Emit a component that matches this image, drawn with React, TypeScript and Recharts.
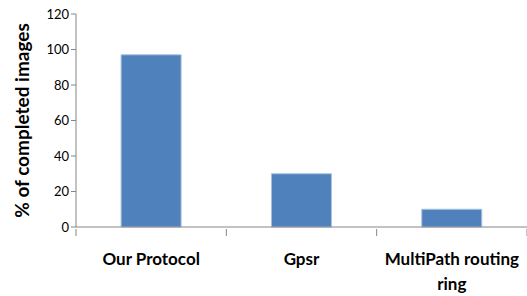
import React from "react";
import { BarChart, Bar, XAxis, YAxis } from "recharts";

const protocols = ["Our Protocol", "Gpsr", "MultiPath routing ring"];
const completed = [97, 30, 10];
const yTicks = [0, 20, 40, 60, 80, 100, 120];

const data = protocols.map((name, i) => ({ name, value: completed[i] }));

const labelLines: Record<string, string[]> = {
  "MultiPath routing ring": ["MultiPath routing", "ring"],
};

// Excel-style category axis: tick marks sit on the band edges, labels centred
function CategoryTick(props: any) {
  const { x, y, payload, index } = props;
  const lines = labelLines[payload.value] ?? [payload.value];
  const half = payload.offset ?? 0;
  const edges = [x - half];
  if (index === protocols.length - 1) edges.push(x + half);
  return (
    <g>
      {half > 0 &&
        edges.map((ex, i) => (
          <line key={`t${i}`} x1={ex} x2={ex} y1={y} y2={y + 7} stroke="#868686" strokeWidth={1} />
        ))}
      {lines.map((line, i) => (
        <text
          key={i}
          x={x}
          y={y + 36 + i * 25}
          textAnchor="middle"
          fontFamily="Lato, sans-serif"
          fontWeight="bold"
          fontSize={17}
          fill="#000"
        >
          {line}
        </text>
      ))}
    </g>
  );
}

export default function App() {
  return (
    <div style={{ position: "absolute", left: 0, top: 0, background: "#fff" }}>
      <BarChart
        width={527}
        height={296}
        data={data}
        margin={{ top: 14, right: 0, bottom: 0, left: 0 }}
        barCategoryGap="30%"
      >
        <XAxis
          dataKey="name"
          height={69}
          interval={0}
          axisLine={{ stroke: "#868686" }}
          tickLine={false}
          tickSize={0}
          tick={<CategoryTick />}
        />
        <YAxis
          width={76}
          domain={[0, 120]}
          ticks={yTicks}
          interval={0}
          tickSize={5}
          axisLine={{ stroke: "#868686" }}
          tickLine={{ stroke: "#868686" }}
          tick={{ fill: "#000", fontSize: 13, fontFamily: "Lato, sans-serif" }}
          label={{
            value: "% of completed images",
            angle: -90,
            position: "insideLeft",
            offset: 22,
            style: {
              textAnchor: "middle",
              fontFamily: "Lato, sans-serif",
              fontWeight: "bold",
              fontSize: 19,
              fill: "#000",
            },
          }}
        />
        <Bar
          dataKey="value"
          fill="#4F81BD"
          stroke="#a9c0de"
          strokeWidth={1}
          isAnimationActive={false}
        />
      </BarChart>
    </div>
  );
}
